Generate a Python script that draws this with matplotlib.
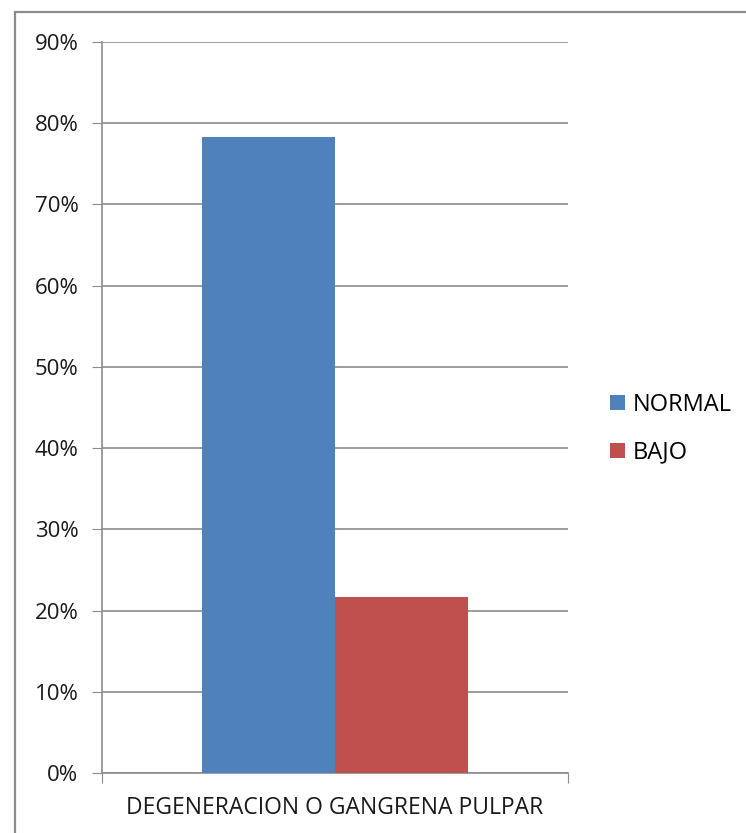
import matplotlib.pyplot as plt
import matplotlib.patches as patches
from matplotlib.ticker import PercentFormatter

# Data
category = ['DEGENERACION O GANGRENA PULPAR']
series = ['NORMAL', 'BAJO']
values = [78.3, 21.7]
colors = ['#4F81BD', '#C0504D']
yticks = [0, 10, 20, 30, 40, 50, 60, 70, 80, 90]

plt.rcParams['font.family'] = ['Open Sans', 'DejaVu Sans']

fig = plt.figure(figsize=(7.46, 8.33), dpi=100)
fig.patch.set_facecolor('white')

# chart frame (runs off the right and bottom edges)
frame = patches.Rectangle((15 / 746, -0.05), 1.0, (833 - 12) / 833 + 0.05,
                          transform=fig.transFigure, fill=False,
                          edgecolor='#8c8c8c', linewidth=1.6, clip_on=False)
fig.patches.append(frame)

ax = fig.add_axes([102 / 746, 60 / 833, 466 / 746, 731 / 833])

width = 0.285
offsets = [-width / 2, width / 2]
for name, val, col, off in zip(series, values, colors, offsets):
    ax.bar(off, val, width=width, color=col, label=name, zorder=3)

ax.set_xlim(-0.5, 0.5)
ax.set_ylim(0, 90)
ax.set_yticks(yticks)
ax.yaxis.set_major_formatter(PercentFormatter(decimals=0))
ax.set_xticks([-0.5, 0.5])
ax.set_xticklabels(['', ''])
ax.text(0, -4.3, category[0], ha='center', va='center', fontsize=16.5,
        color='#1a1a1a', transform=ax.transData)

ax.grid(axis='y', color='#8c8c8c', linewidth=1.2, zorder=0)
for s in ['top', 'right']:
    ax.spines[s].set_visible(False)
for s in ['left', 'bottom']:
    ax.spines[s].set_color('#8c8c8c')
    ax.spines[s].set_linewidth(1.2)
ax.tick_params(axis='y', direction='out', length=7, color='#8c8c8c',
               labelsize=16, labelcolor='#1a1a1a', pad=10)
ax.tick_params(axis='x', direction='out', length=7, color='#8c8c8c')

handles, labels = ax.get_legend_handles_labels()
fig.legend(handles, labels, loc='center left', bbox_to_anchor=(601 / 746, 0.485),
           frameon=False, fontsize=17, handlelength=0.6, handleheight=0.6,
           handletextpad=0.35, labelspacing=1.0, borderaxespad=0)

fig.savefig('out.png', dpi=100, facecolor='white')
